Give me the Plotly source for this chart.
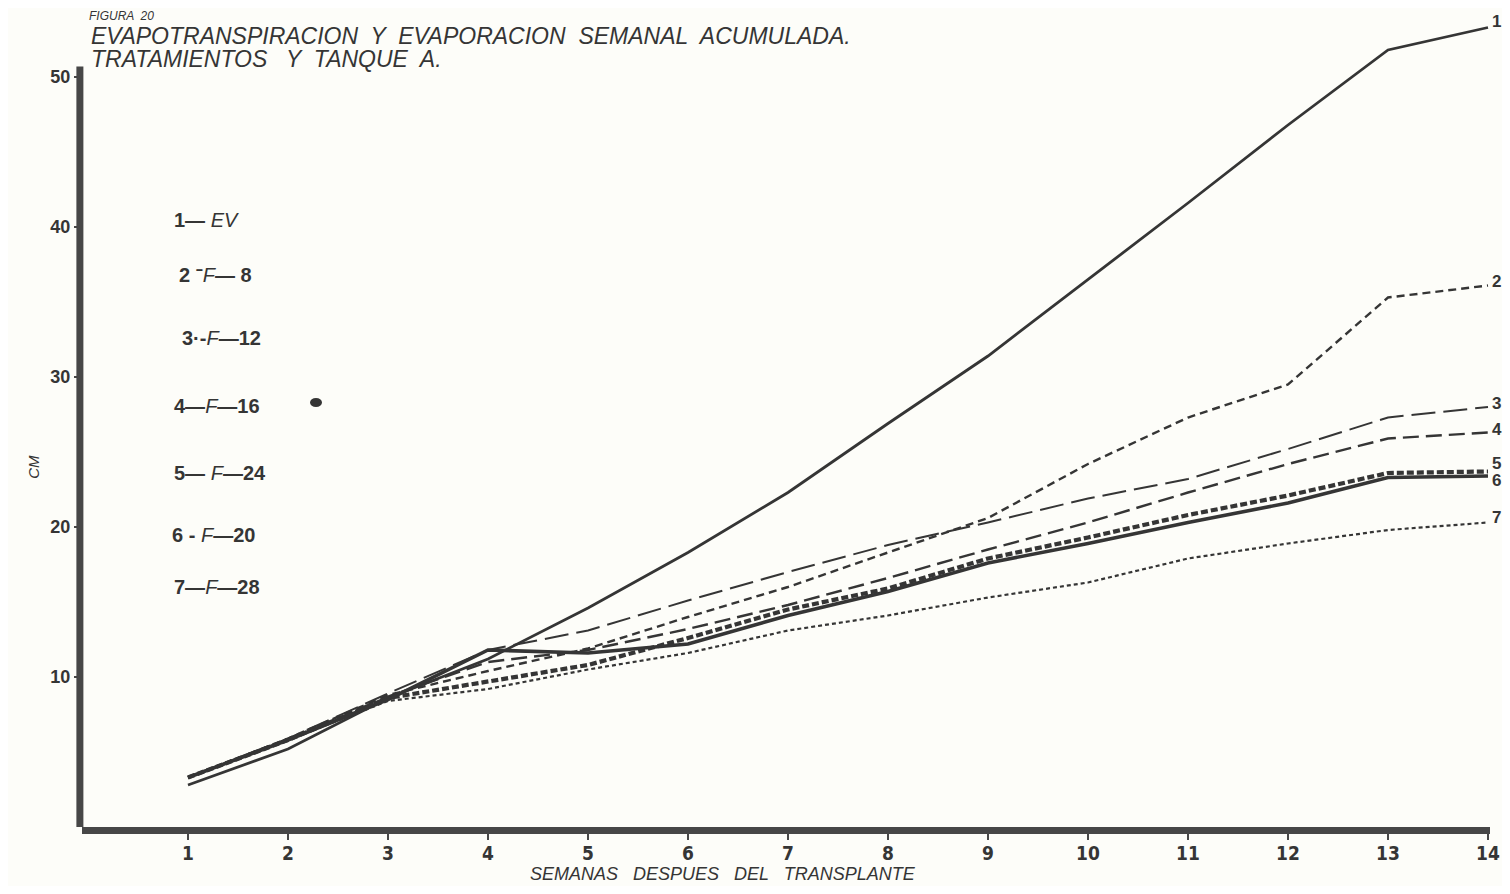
import plotly.graph_objects as go

# ---- data ----
weeks = [1, 2, 3, 4, 5, 6, 7, 8, 9, 10, 11, 12, 13, 14]
ev   = [2.8, 5.2, 8.6, 11.2, 14.6, 18.3, 22.3, 26.9, 31.4, 36.5, 41.6, 46.8, 51.8, 53.3]
f8   = [3.3, 5.9, 8.8, 10.4, 11.9, 14.0, 16.0, 18.3, 20.6, 24.2, 27.3, 29.5, 35.3, 36.1]
f12  = [3.3, 5.9, 8.9, 11.8, 13.1, 15.1, 17.0, 18.8, 20.3, 21.9, 23.2, 25.2, 27.3, 28.0]
f16  = [3.3, 5.8, 8.7, 11.0, 11.8, 13.2, 14.8, 16.6, 18.5, 20.3, 22.3, 24.2, 25.9, 26.3]
f24  = [3.3, 5.8, 8.6, 9.7, 10.8, 12.6, 14.5, 15.9, 17.9, 19.3, 20.8, 22.1, 23.6, 23.7]
f20  = [3.3, 5.8, 8.5, 11.8, 11.6, 12.2, 14.1, 15.7, 17.6, 18.9, 20.3, 21.6, 23.3, 23.4]
f28  = [3.3, 5.8, 8.4, 9.2, 10.5, 11.6, 13.1, 14.1, 15.3, 16.3, 17.9, 18.9, 19.8, 20.3]

series_names = ["1", "2", "3", "4", "5", "6", "7"]
legend_texts = ["<b>1—</b> <i>EV</i>", "<b>2 ⁻</b><i>F</i><b>— 8</b>", "<b>3·-</b><i>F</i><b>—12</b>",
                "<b>4—</b><i>F</i><b>—16</b>", "<b>5—</b> <i>F</i><b>—24</b>", "<b>6 -</b> <i>F</i><b>—20</b>",
                "<b>7—</b><i>F</i><b>—28</b>"]
y_ticks = [10, 20, 30, 40, 50]

ink = "#353535"
paper = "#fdfdf9"
SANS = "Liberation Sans, Arial, sans-serif"
NARROW = "Liberation Sans Narrow, DejaVu Sans Condensed, Arial"

styles = [
    dict(width=2.8, dash="solid"),
    dict(width=2.4, dash="8px,5px"),
    dict(width=2.0, dash="24px,8px"),
    dict(width=2.4, dash="16px,7px"),
    dict(width=4.2, dash="7px,3px"),
    dict(width=3.6, dash="solid"),
    dict(width=2.2, dash="4px,3px"),
]
data = [ev, f8, f12, f16, f24, f20, f28]

fig = go.Figure()
for name, ys, st in zip(series_names, data, styles):
    fig.add_trace(go.Scatter(x=weeks, y=ys, mode="lines", name=name,
                             line=dict(color=ink, width=st["width"], dash=st["dash"]),
                             showlegend=False))

annotations = []
# right-hand end labels
offs = {"1": 6, "2": 4, "3": 4, "4": 3, "5": 8, "6": -4, "7": 5}
for name, ys in zip(series_names, data):
    annotations.append(dict(x=14.02, y=ys[-1], xref="x", yref="y", text="<b>%s</b>" % name,
                            showarrow=False, xanchor="left", yanchor="middle", yshift=offs[name],
                            font=dict(size=17, color=ink, family=SANS)))

# legend text block
legend_y = [40.5, 36.8, 32.6, 28.1, 23.6, 19.5, 16.0]
legend_x = [0.84, 0.89, 0.92, 0.84, 0.84, 0.82, 0.84]
for t, yy, xx in zip(legend_texts, legend_y, legend_x):
    annotations.append(dict(x=xx, y=yy, xref="x", yref="y", text=t, showarrow=False,
                            xanchor="left", yanchor="middle",
                            font=dict(size=20, color=ink, family=SANS)))

# titles
annotations += [
    dict(x=0.0, y=1.0, xref="x", yref="paper", text="<i>FIGURA  20</i>", showarrow=False,
         xanchor="left", yanchor="top", borderpad=0, font=dict(size=12, color=ink, family=SANS)),
    dict(x=0.02, y=52.75, xref="x", yref="y",
         text="<i>EVAPOTRANSPIRACION  Y  EVAPORACION  SEMANAL  ACUMULADA.</i>", showarrow=False,
         xanchor="left", yanchor="middle", borderpad=0, font=dict(size=23, color=ink, family=SANS)),
    dict(x=0.02, y=51.2, xref="x", yref="y",
         text="<i>TRATAMIENTOS   Y  TANQUE  A.</i>", showarrow=False,
         xanchor="left", yanchor="middle", borderpad=0, font=dict(size=23, color=ink, family=SANS)),
]
annotations.append(dict(x=0.455, y=-0.057, xref="paper", yref="paper",
                        text="<i>SEMANAS   DESPUES   DEL   TRANSPLANTE</i>", showarrow=False,
                        xanchor="center", yanchor="middle",
                        font=dict(size=18, color=ink, family=SANS)))
annotations.append(dict(x=-0.034, y=0.44, xref="paper", yref="paper", text="<i>CM</i>", showarrow=False,
                        textangle=-90, xanchor="center", yanchor="middle",
                        font=dict(size=15, color=ink, family=SANS)))

shapes = [
    dict(type="line", xref="paper", yref="y", x0=-0.0015, x1=-0.0015, y0=-0.25, y1=50.7,
         line=dict(color="#474747", width=7)),
    dict(type="circle", xref="x", yref="y", x0=2.22, x1=2.34, y0=28.0, y1=28.6,
         fillcolor=ink, line=dict(color=ink, width=0)),
]

# page body has an 8px margin on every side: keep the figure inside the window (no scrollbars)
fig.update_layout(
    width=1494, height=878,
    margin=dict(l=74, r=12, t=0, b=59),
    paper_bgcolor=paper, plot_bgcolor=paper,
    annotations=annotations, shapes=shapes,
    xaxis=dict(range=[-0.06, 14.02], tickvals=weeks, ticktext=["<b>%d</b>" % w for w in weeks],
               showgrid=False, zeroline=False, showline=True, linewidth=7, linecolor="#474747",
               ticks="outside", ticklen=6, tickwidth=2, tickcolor="#474747",
               ticklabelstandoff=-3,
               tickfont=dict(size=19, color=ink, family=NARROW)),
    yaxis=dict(range=[0, 54.6], tickvals=y_ticks, ticktext=["<b>%d</b>" % v for v in y_ticks],
               showgrid=False, zeroline=False, showline=False,
               ticks="outside", ticklen=7, tickwidth=2, tickcolor="#474747",
               tickfont=dict(size=18, color=ink, family=SANS)),
)

fig.write_html("out.html")
